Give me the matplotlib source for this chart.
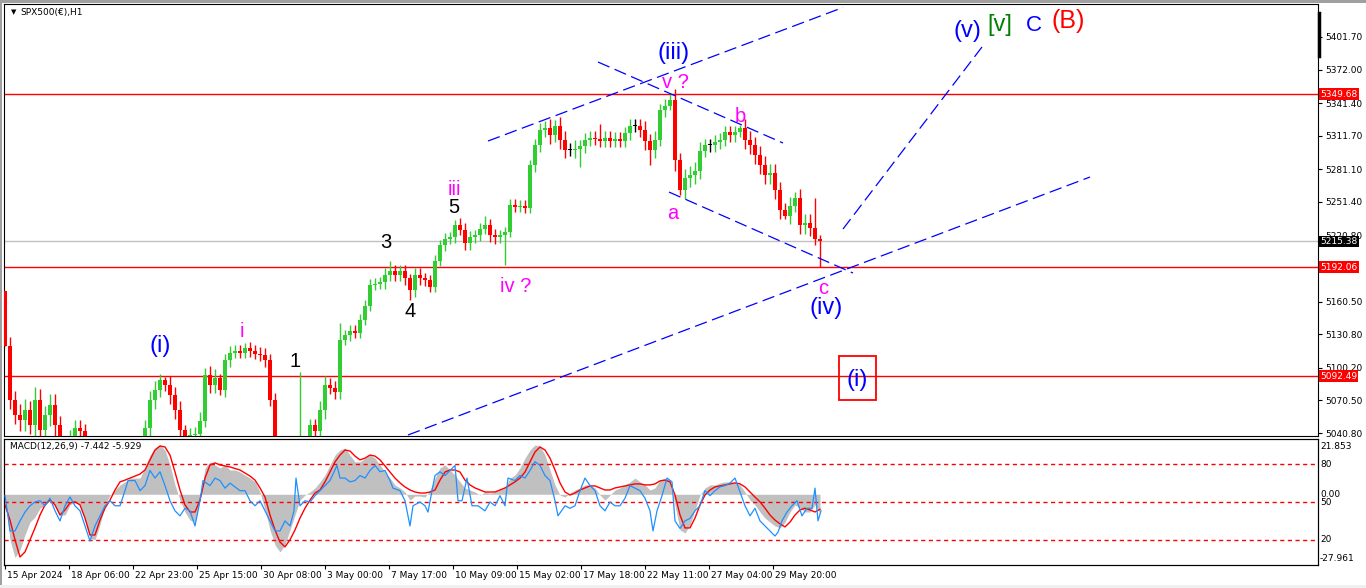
import numpy as np
import matplotlib.pyplot as plt
import matplotlib.transforms as mtransforms
from matplotlib.patches import Rectangle
from matplotlib.lines import Line2D

plt.rcParams['lines.scale_dashes'] = False
plt.rcParams['font.family'] = ['DejaVu Sans']

# ---- price data: one candle per 5 hourly bars ----
step = 5
first_open = 5170
closes = [5120, 5071, 5057, 5053, 5062, 5048, 5071, 5044, 5057, 5066,
          5048, 5030, 5016, 5034, 5045, 5043, 5025, 5010, 5005, 5000,
          4995, 5000, 5005, 5010, 5020, 5025, 5020, 5030, 5045, 5071,
          5080, 5089, 5085, 5075, 5062, 5044, 5034, 5039, 5040, 5052,
          5094, 5085, 5091, 5080, 5107, 5114, 5116, 5114, 5118, 5116,
          5113, 5112, 5107, 5071, 5020, 5000, 4990, 4985, 4990, 5020,
          5030, 5048, 5043, 5062, 5085, 5082, 5078, 5126, 5130, 5134,
          5132, 5144, 5157, 5176, 5177, 5178, 5185, 5188, 5185, 5188,
          5182, 5171, 5185, 5182, 5180, 5174, 5198, 5212, 5218, 5219,
          5230, 5226, 5214, 5219, 5221, 5227, 5230, 5221, 5219, 5221,
          5224, 5249, 5247, 5248, 5246, 5285, 5303, 5317, 5319, 5312,
          5321, 5308, 5299, 5299, 5300, 5302, 5308, 5310, 5309, 5307,
          5310, 5307, 5309, 5307, 5314, 5321, 5321, 5317, 5307, 5299,
          5308, 5335, 5339, 5344, 5290, 5262, 5273, 5276, 5280, 5298,
          5303, 5303, 5306, 5308, 5315, 5312, 5315, 5319, 5308, 5303,
          5294, 5285, 5276, 5278, 5262, 5244, 5239, 5248, 5255, 5230,
          5232, 5228, 5218, 5215.38]
# typical wick length per candle (points)
wicks = [0, 8, 8, 10, 10, 8, 12, 10, 8, 10,
         10, 8, 8, 10, 8, 8, 6, 6, 6, 6,
         6, 6, 6, 6, 8, 8, 6, 8, 8, 8,
         8, 6, 6, 8, 8, 8, 4, 6, 6, 8,
         6, 8, 8, 4, 6, 6, 5, 5, 5, 6,
         5, 6, 6, 6, 6, 6, 6, 6, 6, 4,
         6, 6, 6, 8, 8, 6, 6, 6, 5, 5,
         5, 5, 5, 5, 5, 5, 6, 6, 6, 6,
         6, 4, 6, 6, 5, 5, 5, 5, 5, 5,
         5, 5, 6, 6, 5, 5, 5, 6, 6, 5,
         5, 5, 5, 5, 5, 5, 6, 6, 6, 8,
         6, 8, 8, 6, 8, 6, 6, 6, 6, 6,
         6, 6, 6, 6, 6, 6, 6, 6, 8, 6,
         8, 6, 6, 4, 10, 6, 8, 8, 8, 8,
         6, 6, 6, 6, 6, 6, 6, 4, 8, 8,
         8, 8, 8, 8, 8, 8, 6, 8, 6, 8,
         8, 8, 6, 0]
spike_high = {0: 5170, 32: 5092, 40: 5100, 48: 5123, 59: 5096, 67: 5141,
              77: 5198, 91: 5237, 96: 5239, 110: 5326, 119: 5322,
              133: 5349.68, 147: 5321.5, 158: 5260, 162: 5255, 163: 5221}
spike_low = {36: 5030, 43: 5075, 81: 5162, 100: 5194, 115: 5283,
             129: 5285, 135: 5257.7, 156: 5236, 163: 5192.06}

# ---- MACD(12,26,9) histogram and signal, every 5 bars ----
macd_hist = [-2.3, -18, -25, -22, -16, -11, -9, -5.5, -4.2, -2.3,
             -4.2, -8.2, -8.2, -4.2, -3, -4.2, -10, -17.3, -18, -12,
             -4.2, -0.3, 1.7, 3.7, 4.9, 6.4, 6.4, 6.4, 10.4, 15.5,
             18.3, 19.5, 17.5, 11.6, 3.7, -2.3, -7, -10.2, -11, -2.3,
             10.4, 12.8, 11.6, 10.4, 11.6, 9.6, 9.6, 8.8, 7.6, 6.4,
             4.9, 0.9, -6.2, -14.1, -20, -22.8, -20, -14.1, -8.2, -2.3,
             -0.3, 0.9, 2.5, 4.9, 7.6, 11.6, 15.5, 17.5, 18.3, 15.5,
             12.8, 12.8, 14.3, 15.5, 14.3, 11.6, 8.8, 6.4, 3.7, 2.5,
             0.9, -2.3, -0.7, -0.7, -1.1, 1.7, 6.4, 10.4, 11.6, 9.6,
             7.6, 4.9, 2.5, 1.7, 0.9, -0.3, 0.9, 0.5, 0.9, 1.7,
             2.5, 6.4, 7.6, 10.4, 14.3, 17.5, 19.5, 19.1, 15.5, 9.6,
             3.7, -0.3, -1.1, 0.5, 1.7, 2.5, 3.7, 3.7, 2.5, -0.3,
             -2.3, -0.3, 1.7, 2.5, 3.7, 4.9, 6.4, 4.9, 3.7, 1.7,
             2.5, 5.6, 6.4, 5.6, -4.2, -14.1, -15.3, -12.1, -6.2, -0.3,
             2.5, 3.7, 3.7, 4.5, 4.9, 4.9, 4.5, 3.7, 0.9, -2.3,
             -4.2, -7, -9.4, -11, -12.5, -13.3, -11, -7, -4.2, -5.5,
             -7, -7, -4.2, -7.442]
macd_signal = [-4.2, -10.2, -18, -24.8, -22.8, -18, -13.3, -8.2, -4.2, -2.3,
               -4.2, -8.2, -6.2, -3.4, -3, -4.2, -9.4, -16.1, -16.1, -10.2,
               -5.5, -2.3, 1.7, 4.9, 5.6, 6.4, 7.2, 8, 9.6, 13.6,
               17.5, 19.1, 18.7, 15.5, 8.8, 1.7, -4.2, -7, -7, -2.3,
               6.4, 11.6, 12.4, 11.6, 11.2, 10.8, 10.2, 9.6, 8.4, 7.2,
               5.6, 2.5, -1.1, -8.2, -14.1, -18.9, -20.8, -18, -14.1, -9.4,
               -5.5, -2.3, 0.5, 1.7, 4.9, 8.8, 12.8, 15.5, 17.5, 17.1,
               15.1, 13.6, 14.3, 15.5, 15.1, 13.6, 11.2, 8.8, 6.4, 4.5,
               2.9, 1.7, 0.9, 0.5, 0.5, 0.9, 1.7, 5.6, 8.8, 9.6,
               9.6, 8.8, 5.6, 3.7, 2.5, 1.7, 0.9, 0.9, 0.9, 1.7,
               2.5, 3.7, 4.9, 6.4, 8.8, 12.8, 16.7, 18.7, 17.5, 14.3,
               9.6, 4.5, 0.9, -0.3, 0.5, 1.7, 2.5, 3.3, 3.3, 2.5,
               1.7, 1.7, 2.5, 2.9, 3.3, 3.7, 4.1, 4.1, 3.7, 3.7,
               4.1, 5.3, 5.6, 4.9, -0.3, -8.2, -13.3, -13.3, -9.4, -4.2,
               -0.3, 1.7, 2.9, 3.3, 3.7, 4.1, 4.5, 4.1, 2.9, 0.9,
               -1.1, -3, -5.5, -8.2, -10.2, -11.7, -12.9, -11, -8.2, -6.2,
               -5.5, -6.2, -7, -5.929]
macd_min, macd_max = -27.961, 21.853

# ---- oscillator (0-100 scale, levels 80/50/20) ----
osc_bars = [0, 3, 5, 10, 15, 20, 25, 30, 35, 40, 45, 50, 55, 60, 65, 70, 75,
            80, 85, 90, 95, 100, 105, 110, 115, 120, 123, 130, 135, 140, 145,
            150, 155, 160, 165, 170, 175, 180, 185, 190, 195, 198, 205, 210,
            215, 220, 225, 230, 235, 240, 245, 250, 255, 260, 265, 270, 275,
            280, 285, 289, 291, 295, 300, 305, 310, 315, 320, 325, 332, 335,
            340, 345, 350, 355, 360, 365, 370, 375, 380, 385, 388, 395, 400,
            405, 408, 415, 420, 423, 427, 430, 435, 440, 445, 450, 453, 457,
            462, 467, 473, 480, 485, 490, 495, 500, 503, 510, 515, 520, 525,
            530, 535, 540, 545, 550, 553, 560, 565, 570, 575, 580, 585, 590,
            595, 600, 605, 610, 615, 620, 625, 630, 635, 640, 645, 648, 652,
            657, 662, 667, 670, 675, 680, 685, 690, 695, 700, 705, 710, 715,
            720, 725, 730, 735, 740, 745, 750, 755, 760, 765, 770, 773, 777,
            782, 787, 792, 797, 802, 807, 810, 813, 816]
osc_vals = [55, 39, 27, 27, 35, 42, 47, 50, 51, 47, 53, 43, 35, 47, 54, 47,
            43, 31, 19, 31, 39, 47, 51, 47, 47, 59, 67, 67, 59, 63, 75, 69,
            74, 63, 51, 43, 39, 45, 43, 31, 51, 67, 63, 69, 67, 61, 65, 62,
            59, 59, 51, 47, 51, 43, 35, 27, 27, 35, 31, 43, 69, 47, 51, 50,
            55, 59, 63, 67, 79, 69, 69, 66, 67, 71, 69, 75, 79, 74, 75, 67,
            61, 59, 51, 31, 47, 50, 47, 42, 59, 71, 74, 71, 75, 79, 51, 51,
            69, 47, 47, 43, 50, 47, 55, 47, 69, 67, 71, 69, 75, 82, 79, 71,
            67, 51, 39, 47, 45, 47, 59, 69, 63, 59, 47, 43, 50, 47, 47, 53,
            63, 61, 59, 53, 43, 27, 43, 55, 69, 66, 35, 29, 35, 37, 43, 47,
            59, 55, 59, 62, 63, 65, 69, 58, 47, 39, 45, 35, 31, 27, 23, 26,
            35, 42, 47, 51, 39, 45, 45, 61, 35, 43]
osc_levels = [80, 50, 20]

# ---- horizontal levels and axis ----
red_levels = [5349.68, 5192.06, 5092.49]
last_price = 5215.38
price_ticks = [5401.70, 5372.00, 5341.40, 5311.70, 5281.10, 5251.40,
               5220.80, 5160.50, 5130.80, 5100.20, 5070.50, 5040.80]
date_bars = [0, 64, 128, 192, 256, 320, 384, 448, 512, 576, 640, 704, 768]
date_labels = ['15 Apr 2024', '18 Apr 06:00', '22 Apr 23:00', '25 Apr 15:00',
               '30 Apr 08:00', '3 May 00:00', '7 May 17:00', '10 May 09:00',
               '15 May 02:00', '17 May 18:00', '22 May 11:00', '27 May 04:00',
               '29 May 20:00']

# ---- wave labels: text, bar, price, colour, size ----
BLUE, MAG, BLK = '#0000FF', '#FF00FF', '#000000'
waves = [('(i)', 155, 5120.1, BLUE, 17), ('i', 237, 5132.9, MAG, 14.5),
         ('1', 290, 5105.9, BLK, 14.5), ('3', 381, 5214.4, BLK, 14.5),
         ('4', 405, 5151.5, BLK, 14.5), ('5', 449, 5246.3, BLK, 14.5),
         ('iii', 449, 5262.3, MAG, 14.5), ('iv ?', 511, 5173.9, MAG, 14.5),
         ('v ?', 670, 5359.8, MAG, 14.5), ('b', 735, 5329.7, MAG, 14.5),
         ('a', 668, 5240.4, MAG, 14.5), ('c', 818, 5172.9, MAG, 14.5),
         ('(iv)', 821, 5154.3, BLUE, 17), ('(iii)', 669, 5387.1, BLUE, 17),
         ('(i)', 852, 5088.7, BLUE, 17), ('(v)', 962, 5407.6, BLUE, 17),
         ('[v]', 995, 5412.6, '#008000', 17), ('C', 1029, 5412.6, BLUE, 16),
         ('(B)', 1063, 5416.3, '#FF0000', 18)]
box = (834, 5070.9, 37, 40.1)  # bar, price, width in bars, height in price

trend_lines = [((483, 5306.9), (838, 5428.6)),
               ((403, 5039.0), (1085, 5274.1)),
               ((593, 5378.9), (778, 5305.1)),
               ((664, 5260.4), (848, 5186.6)),
               ((838, 5226.7), (977, 5392.6))]

W, H = 1366, 588
fig = plt.figure(figsize=(W / 100, H / 100), dpi=100)
fig.patch.set_facecolor('white')
ax = fig.add_axes([4 / W, 1 - 436 / H, 1314 / W, 432 / H])
axm = fig.add_axes([4 / W, 1 - 565 / H, 1314 / W, 126 / H])

# ---- candles ----
opens = [first_open] + closes[:-1]
xs = np.arange(len(closes)) * step
green, red = '#32CD32', '#FF0000'
cols = [green if c > o else (red if c < o else 'black') for o, c in zip(opens, closes)]
bottoms = [min(o, c) for o, c in zip(opens, closes)]
heights = [max(abs(c - o), 0.8) for o, c in zip(opens, closes)]
for i in range(len(closes)):
    hi = spike_high.get(i, max(opens[i], closes[i]) + wicks[i])
    lo = spike_low.get(i, min(opens[i], closes[i]) - wicks[i])
    ax.vlines(xs[i], lo, hi, color=cols[i], lw=1.0, zorder=3)
ax.bar(xs, heights, bottom=bottoms, width=3.4, color=cols, linewidth=0, zorder=3)

for lv in red_levels:
    ax.axhline(lv, color='#FF0000', lw=1.0, zorder=2)
ax.axhline(last_price, color='#C0C0C0', lw=1.0, zorder=1)

for (b0, p0), (b1, p1) in trend_lines:
    ax.plot([b0, b1], [p0, p1], color=BLUE, lw=0.9, dashes=(9, 4), zorder=4)

for txt, b, p, c, s in waves:
    ax.text(b, p, txt, color=c, fontsize=s, ha='center', va='center',
            family='Liberation Sans', zorder=5)
ax.add_patch(Rectangle((box[0], box[1]), box[2], box[3], fill=False,
                       edgecolor='#FF0000', lw=1.3, zorder=5))

ax.set_xlim(-1, 1313)
ax.set_ylim(5038.09, 5431.77)
ax.set_xticks([])
ax.yaxis.tick_right()
ax.set_yticks(price_ticks)
ax.set_yticklabels([f'{v:.2f}' for v in price_ticks])
ax.tick_params(axis='y', length=3, width=0.8, pad=2, labelsize=6.5)

lab_tr = mtransforms.offset_copy(
    mtransforms.blended_transform_factory(ax.transAxes, ax.transData),
    fig=fig, x=2, y=0, units='dots')
for lv in red_levels:
    ax.text(1.0, lv, f'{lv:.2f}', transform=lab_tr, color='white', fontsize=6.5,
            va='center', ha='left', clip_on=False, zorder=6,
            bbox=dict(boxstyle='square,pad=0.15', fc='#FF0000', ec='none'))
ax.text(1.0, last_price, f'{last_price:.2f}', transform=lab_tr, color='white',
        fontsize=6.5, va='center', ha='left', clip_on=False, zorder=6,
        bbox=dict(boxstyle='square,pad=0.15', fc='black', ec='none'))

ax.text(16 / 1314, 1 - 8 / 432, 'SPX500(€),H1', transform=ax.transAxes,
        fontsize=6.5, va='center', ha='left')
ax.text(7 / 1314, 1 - 8 / 432, '▼', transform=ax.transAxes,
        fontsize=5, va='center', ha='left')

# ---- MACD panel ----
mx = np.arange(len(macd_hist)) * step
axm.fill_between(mx, 0, macd_hist, color='#C0C0C0', lw=0, zorder=1)
axm.plot(mx, macd_signal, color='#FF0000', lw=1.0, zorder=3)
axm.set_ylim(macd_min, macd_max)
axm.set_xlim(-1, 1313)
axm.set_yticks([])
axm.set_xticks(date_bars)
axm.set_xticklabels([])
axm.tick_params(axis='x', length=3, width=0.8, direction='out')

axo = axm.twinx()
axo.set_ylim(0, 100)
axo.plot(osc_bars, osc_vals, color='#1E90FF', lw=0.9, zorder=4)
for lv in osc_levels:
    axo.axhline(lv, color='#FF0000', lw=1.0, dashes=(3, 2.5))
axo.set_yticks([])
axo.set_xlim(-1, 1313)

side = mtransforms.offset_copy(
    mtransforms.blended_transform_factory(axo.transAxes, axo.transData),
    fig=fig, x=2, y=0, units='dots')
for s, v in [('21.853', 94.4), ('80', 80), ('0.00', 56), ('50', 49.6),
             ('20', 20), ('-27.961', 4.8)]:
    axo.text(1.0, v, s, transform=side, fontsize=6.5, va='center', ha='left',
             clip_on=False)

axm.text(6 / 1314, 1 - 7 / 126, 'MACD(12,26,9) -7.442 -5.929',
         transform=axm.transAxes, fontsize=6.5, va='center', ha='left')

date_tr = mtransforms.offset_copy(
    mtransforms.blended_transform_factory(axm.transData, axm.transAxes),
    fig=fig, x=2, y=-10, units='dots')
for b, s in zip(date_bars, date_labels):
    axm.text(b, 0, s, transform=date_tr, fontsize=6.5, va='center', ha='left',
             clip_on=False)

for a in (ax, axm, axo):
    for sp in a.spines.values():
        sp.set_color('black')
        sp.set_linewidth(0.8)

# window frame and scroll marker
fig.add_artist(Rectangle((0, 1 - 3 / H), 1, 3 / H, transform=fig.transFigure,
                         color='#A0A0A0', lw=0))
fig.add_artist(Rectangle((0, 0), 2 / W, 1, transform=fig.transFigure,
                         color='#A0A0A0', lw=0))
fig.add_artist(Rectangle((0, 0), 1, 3 / H, transform=fig.transFigure,
                         color='#F0F0F0', lw=0))
fig.add_artist(Line2D([1318.5 / W] * 2, [1 - 13 / H, 1 - 56 / H],
                      transform=fig.transFigure, color='black', lw=2.5))

fig.savefig('out.png', dpi=100)
